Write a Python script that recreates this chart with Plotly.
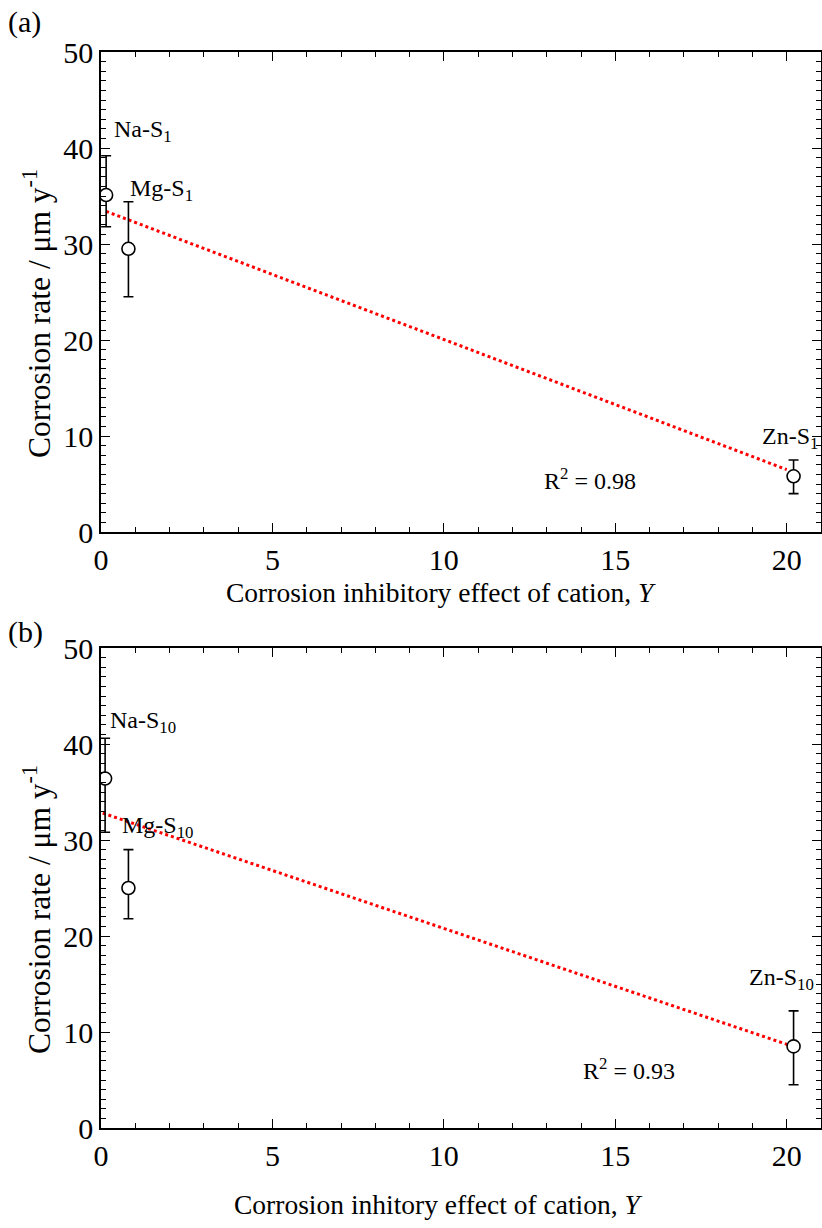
import plotly.graph_objects as go

# ---------------- data ----------------
labels_a = ["Na-S<sub>1</sub>", "Mg-S<sub>1</sub>", "Zn-S<sub>1</sub>"]
x_a = [0.15, 0.8, 20.2]
y_a = [35.1, 29.5, 5.8]
err_plus_a = [4.1, 4.9, 1.7]
err_minus_a = [3.3, 5.0, 1.8]
fit_x_a = [0.15, 20.0]
fit_y_a = [33.4, 6.5]
r2_a = "R<sup>2</sup> = 0.98"

labels_b = ["Na-S<sub>10</sub>", "Mg-S<sub>10</sub>", "Zn-S<sub>10</sub>"]
x_b = [0.12, 0.8, 20.2]
y_b = [36.4, 25.0, 8.5]
err_plus_b = [4.2, 4.0, 3.7]
err_minus_b = [5.6, 3.2, 4.0]
fit_x_b = [0.05, 20.1]
fit_y_b = [32.8, 8.6]
r2_b = "R<sup>2</sup> = 0.93"

x_title_a = "Corrosion inhibitory effect of cation, <i>Y</i>"
x_title_b = "Corrosion inhitory effect of cation, <i>Y</i>"
y_title = "Corrosion rate / μm y<sup>-1</sup>"

FONT = "Liberation Serif"
W, H = 822, 1228

fig = go.Figure()

def add_panel(xs, ys, ep, em, fx, fy, xa, ya):
    fig.add_trace(go.Scatter(x=fx, y=fy, mode="lines",
                             line=dict(color="red", width=3, dash="dot"),
                             xaxis=xa, yaxis=ya, showlegend=False, hoverinfo="skip"))
    fig.add_trace(go.Scatter(x=xs, y=ys, mode="markers",
                             marker=dict(symbol="circle", size=13, color="white",
                                         line=dict(color="black", width=1.6)),
                             error_y=dict(type="data", symmetric=False, array=ep, arrayminus=em,
                                          color="black", thickness=1.6, width=5),
                             xaxis=xa, yaxis=ya, showlegend=False))

add_panel(x_a, y_a, err_plus_a, err_minus_a, fit_x_a, fit_y_a, "x", "y")
add_panel(x_b, y_b, err_plus_b, err_minus_b, fit_x_b, fit_y_b, "x2", "y2")

def px_x(p):
    return p / W

def px_y(p):
    return 1 - p / H

xdom = [px_x(101), px_x(821)]
ydom_a = [px_y(532), px_y(52)]
ydom_b = [px_y(1128), px_y(648)]

axis_common = dict(
    showline=True, linecolor="black", linewidth=1.5, mirror="ticks",
    ticks="inside", ticklen=9, tickwidth=1.3, tickcolor="black",
    showgrid=False, zeroline=False, automargin=False,
    tickfont=dict(family=FONT, size=30, color="black"),
    minor=dict(ticks="inside", ticklen=5, tickwidth=1, tickcolor="black", dtick=1, showgrid=False),
)

fig.update_layout(
    width=W, height=H,
    margin=dict(l=0, r=0, t=0, b=0, autoexpand=False),
    paper_bgcolor="white", plot_bgcolor="white",
    font=dict(family=FONT, color="black"),
    xaxis=dict(domain=xdom, range=[0, 21], dtick=5, anchor="y", **axis_common),
    yaxis=dict(domain=ydom_a, range=[0, 50], dtick=10, anchor="x", **axis_common),
    xaxis2=dict(domain=xdom, range=[0, 21], dtick=5, anchor="y2", **axis_common),
    yaxis2=dict(domain=ydom_b, range=[0, 50], dtick=10, anchor="x2", **axis_common),
)

ann_font = dict(family=FONT, size=24, color="black")
title_font = dict(family=FONT, size=27.5, color="black")
ytitle_font = dict(family=FONT, size=31.5, color="black")

def paper_ann(text, px, py, font, angle=0, xanchor="center"):
    return dict(text=text, x=px_x(px), y=px_y(py), xref="paper", yref="paper",
                xanchor=xanchor, yanchor="middle", showarrow=False, font=font, textangle=angle)

annotations = [
    dict(text=labels_a[0], x=0.32, y=41.8, xref="x", yref="y", xanchor="left", showarrow=False, font=ann_font),
    dict(text=labels_a[1], x=0.8, y=35.6, xref="x", yref="y", xanchor="left", showarrow=False, font=ann_font),
    dict(text=labels_a[2], x=20.97, y=9.8, xref="x", yref="y", xanchor="right", showarrow=False, font=ann_font),
    dict(text=r2_a, x=12.86, y=5.5, xref="x", yref="y", xanchor="left", showarrow=False, font=ann_font),
    dict(text=labels_b[0], x=0.2, y=42.3, xref="x2", yref="y2", xanchor="left", showarrow=False, font=ann_font),
    dict(text=labels_b[1], x=0.55, y=31.35, xref="x2", yref="y2", xanchor="left", showarrow=False, font=ann_font),
    dict(text=labels_b[2], x=20.85, y=15.5, xref="x2", yref="y2", xanchor="right", showarrow=False, font=ann_font),
    dict(text=r2_b, x=14.0, y=6.1, xref="x2", yref="y2", xanchor="left", showarrow=False, font=ann_font),
    paper_ann(x_title_a, 441, 592, title_font),
    paper_ann(x_title_b, 438, 1204, title_font),
    paper_ann(y_title, 37, 314, ytitle_font, angle=-90),
    paper_ann(y_title, 37, 910, ytitle_font, angle=-90),
    paper_ann("(a)", 6, 22, dict(family=FONT, size=30, color="black"), xanchor="left"),
    paper_ann("(b)", 6, 632, dict(family=FONT, size=30, color="black"), xanchor="left"),
]
fig.update_layout(annotations=annotations)

fig.write_html("out.html")
